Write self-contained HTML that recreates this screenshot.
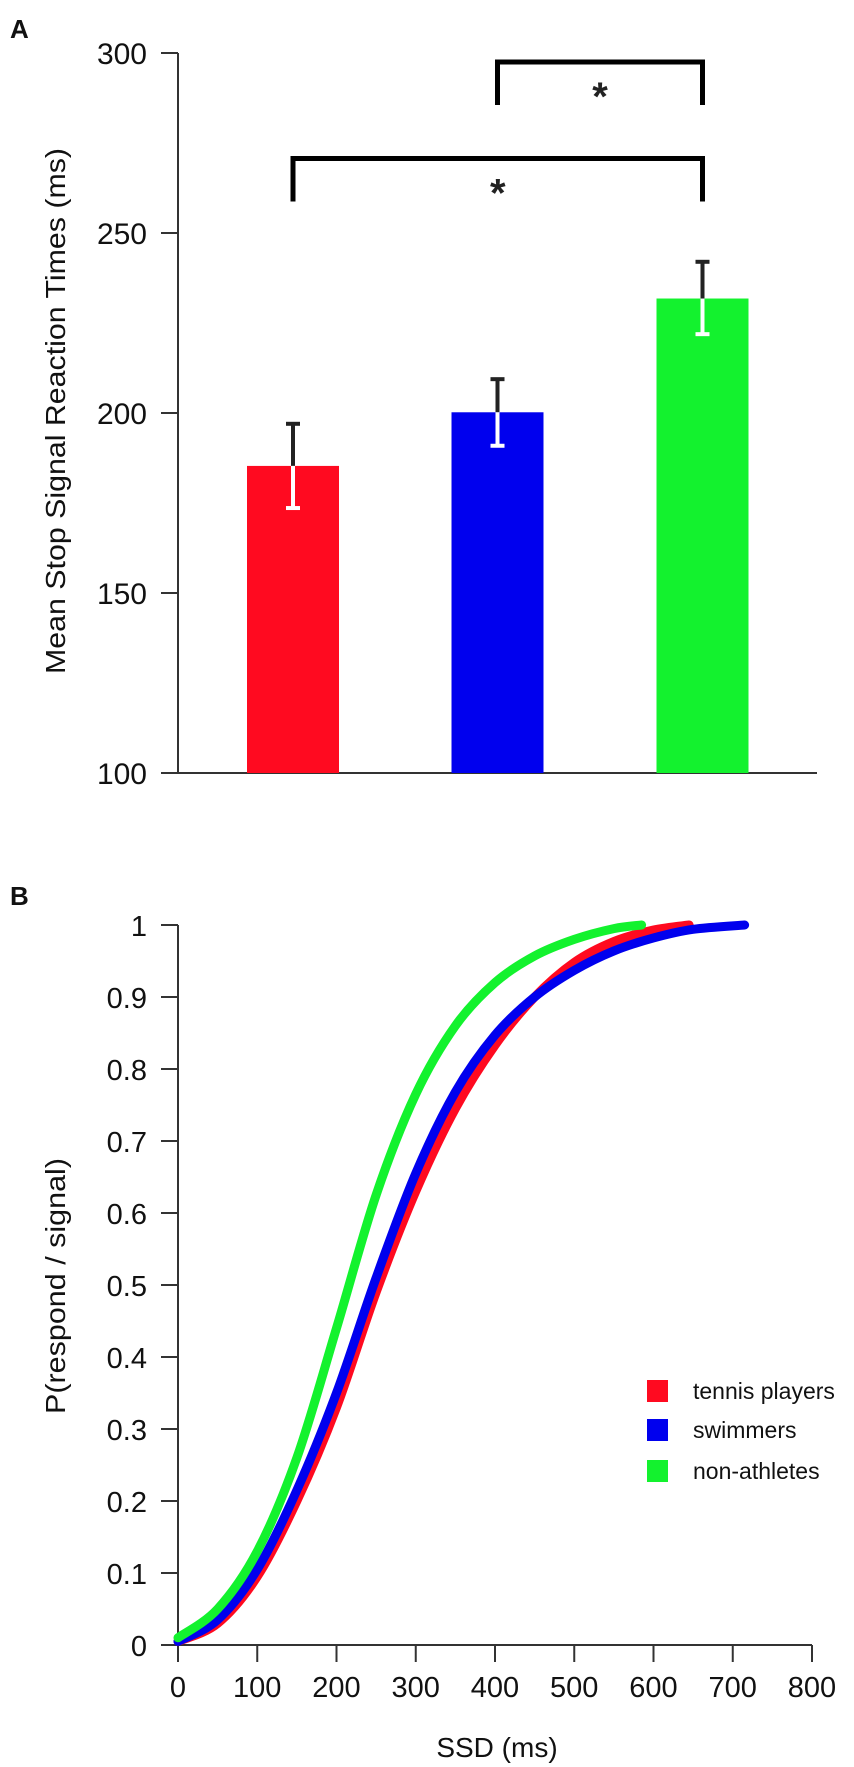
<!DOCTYPE html>
<html><head><meta charset="utf-8">
<style>
html,body{margin:0;padding:0;background:#fff;}
svg{display:block;font-family:"Liberation Sans",Arial,sans-serif;}
</style></head>
<body>
<svg id="fig" width="854" height="1767" viewBox="0 0 854 1767">
  <text x="10" y="38" font-size="26" font-weight="bold" fill="#111">A</text>
  <g id="panelA"></g>
  <text x="10" y="905" font-size="26" font-weight="bold" fill="#111">B</text>
  <g id="panelB"></g>
</svg>
<script>
// ---------- Panel A data ----------
const barGroups = ["tennis players", "swimmers", "non-athletes"];
const barMeans = [185.3, 200.2, 231.8];
const barErrHi = [197.0, 209.4, 242.0];
const barErrLo = [173.6, 190.9, 221.9];
const barColors = ["#ff0a20", "#0000ee", "#13f22e"];
const aTicks = [100, 150, 200, 250, 300];
const sigPairs = [[1, 2], [0, 2]];
const sigLevels = [297.5, 270.7];

// ---------- Panel B data ----------
const redX = [0, 50, 100, 150, 200, 250, 300, 350, 400, 450, 500, 550, 600, 645];
const redY = [0.005, 0.03, 0.095, 0.2, 0.33, 0.49, 0.63, 0.745, 0.833, 0.9, 0.948, 0.977, 0.993, 1.0];
const blueX = [0, 50, 100, 150, 200, 250, 300, 350, 400, 450, 500, 550, 600, 650, 715];
const blueY = [0.005, 0.035, 0.105, 0.215, 0.35, 0.51, 0.655, 0.768, 0.847, 0.9, 0.937, 0.964, 0.982, 0.994, 1.0];
const greenX = [0, 50, 100, 150, 200, 250, 300, 350, 400, 450, 500, 550, 585];
const greenY = [0.01, 0.05, 0.13, 0.26, 0.44, 0.625, 0.765, 0.86, 0.92, 0.957, 0.98, 0.995, 1.0];
const seriesNames = ["tennis players", "swimmers", "non-athletes"];
const xTicksB = [0, 100, 200, 300, 400, 500, 600, 700, 800];
const yTicksB = [0, 0.1, 0.2, 0.3, 0.4, 0.5, 0.6, 0.7, 0.8, 0.9, 1];
const yTickLabelsB = ["0", "0.1", "0.2", "0.3", "0.4", "0.5", "0.6", "0.7", "0.8", "0.9", "1"];

const NS = "http://www.w3.org/2000/svg";
function mk(parent, tag, attrs, text) {
  const e = document.createElementNS(NS, tag);
  for (const k in attrs) e.setAttribute(k, attrs[k]);
  if (text !== undefined) e.textContent = text;
  parent.appendChild(e);
  return e;
}

// ---------- Panel A ----------
(function () {
  const g = document.getElementById("panelA");
  const ax = 178, y0 = 773, yTop = 53;
  const yA = v => y0 - (v - 100) / 200 * (y0 - yTop);
  const centers = [293, 497.5, 702.5];
  const bw = 92;
  let e;
  e = mk(g, "line", {x1: ax, y1: yTop, x2: ax, y2: y0, stroke: "#333", "stroke-width": 2});
  
  
  e = mk(g, "line", {x1: ax, y1: y0, x2: 817, y2: y0, stroke: "#333", "stroke-width": 2});
  
  
  aTicks.forEach(t => {
    const y = yA(t);
    e = mk(g, "line", {x1: 161, y1: y, x2: ax, y2: y, stroke: "#333", "stroke-width": 2});
    
    
    e = mk(g, "text", {x: 147, y: y + 11, "font-size": 30, "text-anchor": "end", fill: "#111"}, String(t));
    
    
  });
  e = mk(g, "text", {x: 0, y: 0, "font-size": 28, "text-anchor": "middle", fill: "#111",
    transform: "translate(65,411) rotate(-90)", textLength: 526, lengthAdjust: "spacingAndGlyphs"},
    "Mean Stop Signal Reaction Times (ms)");
  
  
  barMeans.forEach((v, i) => {
    const cx = centers[i];
    e = mk(g, "rect", {x: cx - bw / 2, y: yA(v), width: bw, height: y0 - yA(v), fill: barColors[i]});
    
    
    e = mk(g, "line", {x1: cx, y1: yA(barErrHi[i]), x2: cx, y2: yA(v), stroke: "#222", "stroke-width": 4});
    
    
    e = mk(g, "line", {x1: cx - 7, y1: yA(barErrHi[i]), x2: cx + 7, y2: yA(barErrHi[i]), stroke: "#222", "stroke-width": 4});
    
    
    e = mk(g, "line", {x1: cx, y1: yA(v), x2: cx, y2: yA(barErrLo[i]), stroke: "#fff", "stroke-width": 4});
    
    
    e = mk(g, "line", {x1: cx - 7, y1: yA(barErrLo[i]), x2: cx + 7, y2: yA(barErrLo[i]), stroke: "#fff", "stroke-width": 4});
    
    
  });
  sigPairs.forEach((p, k) => {
    const yb = yA(sigLevels[k]);
    const x1 = centers[p[0]], x2 = centers[p[1]];
    e = mk(g, "polyline", {points: `${x1},${yb + 43} ${x1},${yb} ${x2},${yb} ${x2},${yb + 43}`,
      fill: "none", stroke: "#000", "stroke-width": 5});
    
    
    e = mk(g, "text", {x: (x1 + x2) / 2, y: yb + 48, "font-size": 40, "font-weight": "bold", "text-anchor": "middle", fill: "#222"}, "*");
    
    
  });
})();

// ---------- Panel B ----------
(function () {
  const g = document.getElementById("panelB");
  const ax = 178, y0 = 1645, y1 = 925, xEnd = 812;
  const xB = v => ax + v / 800 * (xEnd - ax);
  const yB = v => y0 - v * (y0 - y1);
  let e;
  e = mk(g, "line", {x1: ax, y1: y1, x2: ax, y2: y0, stroke: "#333", "stroke-width": 2});
  
  
  e = mk(g, "line", {x1: 161, y1: y0, x2: xEnd, y2: y0, stroke: "#333", "stroke-width": 2});
  
  
  yTicksB.forEach((t, i) => {
    const y = yB(t);
    e = mk(g, "line", {x1: 161, y1: y, x2: ax, y2: y, stroke: "#333", "stroke-width": 2});
    
    
    e = mk(g, "text", {x: 147, y: y + 11, "font-size": 29, "text-anchor": "end", fill: "#111"}, yTickLabelsB[i]);
    
    
  });
  xTicksB.forEach(t => {
    const x = xB(t);
    e = mk(g, "line", {x1: x, y1: y0, x2: x, y2: 1662, stroke: "#333", "stroke-width": 2});
    
    
    e = mk(g, "text", {x: x, y: 1697, "font-size": 29, "text-anchor": "middle", fill: "#111"}, String(t));
    
    
  });
  e = mk(g, "text", {x: 0, y: 0, "font-size": 28, "text-anchor": "middle", fill: "#111",
    transform: "translate(65,1286) rotate(-90)", textLength: 256, lengthAdjust: "spacingAndGlyphs"}, "P(respond / signal)");
  
  
  e = mk(g, "text", {x: 497, y: 1757, "font-size": 28, "text-anchor": "middle", fill: "#111"}, "SSD (ms)");
  
  

  const series = [[redX, redY, "#ff0a20"], [blueX, blueY, "#0000ee"], [greenX, greenY, "#13f22e"]];
  series.forEach((s, i) => {
    const xs = s[0], ys = s[1];
    const pts = xs.map((x, j) => [xB(x), yB(ys[j])]);
    let d = `M${pts[0][0]},${pts[0][1]}`;
    for (let j = 0; j < pts.length - 1; j++) {
      const p0 = pts[Math.max(j - 1, 0)], p1 = pts[j], p2 = pts[j + 1], p3 = pts[Math.min(j + 2, pts.length - 1)];
      const c1 = [p1[0] + (p2[0] - p0[0]) / 6, p1[1] + (p2[1] - p0[1]) / 6];
      const c2 = [p2[0] - (p3[0] - p1[0]) / 6, p2[1] - (p3[1] - p1[1]) / 6];
      d += ` C${c1[0]},${c1[1]} ${c2[0]},${c2[1]} ${p2[0]},${p2[1]}`;
    }
    e = mk(g, "path", {d: d, fill: "none", stroke: s[2], "stroke-width": 9, "stroke-linecap": "round", "stroke-linejoin": "round"});
    
    
  });

  const legY = [1391, 1430, 1471];
  seriesNames.forEach((n, i) => {
    e = mk(g, "rect", {x: 647, y: legY[i] - 11, width: 21, height: 22, fill: series[i][2]});
    
    
    e = mk(g, "text", {x: 693, y: legY[i] + 8, "font-size": 23, fill: "#111"}, n);
    
    
  });
})();
</script>
</body></html>
